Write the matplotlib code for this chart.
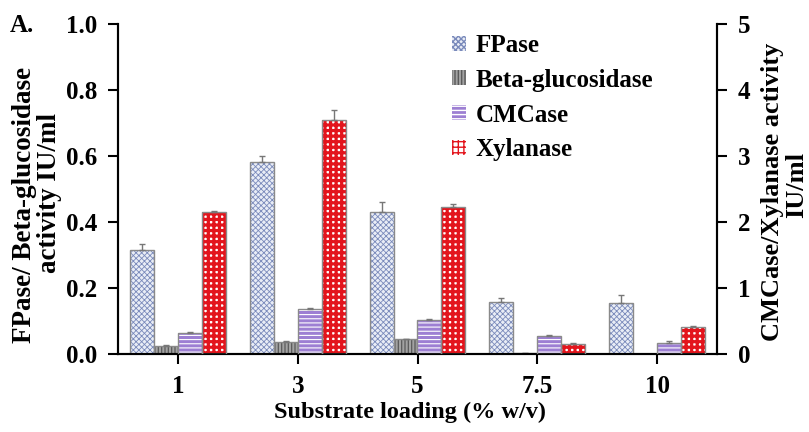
import matplotlib
matplotlib.use("Agg")
import matplotlib.pyplot as plt
from matplotlib.patches import Patch
import numpy as np

categories = ["1", "3", "5", "7.5", "10"]
fpase = [0.316, 0.583, 0.430, 0.158, 0.154]
fpase_err = [0.016, 0.018, 0.032, 0.011, 0.024]
bgluc = [0.024, 0.035, 0.044, 0.002, 0.0]
bgluc_err = [0.002, 0.004, 0.002, 0.001, 0.0]
cmcase = [0.32, 0.68, 0.51, 0.27, 0.16]
cmcase_err = [0.015, 0.02, 0.02, 0.02, 0.04]
xylanase = [2.15, 3.55, 2.22, 0.15, 0.41]
xylanase_err = [0.01, 0.15, 0.05, 0.01, 0.02]

plt.rcParams['font.family'] = ['Liberation Serif', 'DejaVu Serif']
plt.rcParams['font.weight'] = 'bold'

fig = plt.figure(figsize=(8.09, 4.32), dpi=100)
ax = fig.add_axes([118/809, 1-354/432, (717-118)/809, (354-24)/432])
ax2 = ax.twinx()

x = np.arange(len(categories))
w = 0.2
styles = {
    'FPase': dict(fc='#e9edf6', hc='#7a8abb', hatch='xxxxxx', hlw=0.6),
    'Beta-glucosidase': dict(fc='#a2a2a2', hc='#5a5a5a', hatch='|||||', hlw=0.9),
    'CMCase': dict(fc='#9d7fd3', hc='#ffffff', hatch='----', hlw=0.8),
    'Xylanase': dict(fc='#ffffff', hc='#e3141c', hatch='+++', hlw=2.3),
}

def mkbar(a, pos, vals, s):
    with plt.rc_context({'hatch.linewidth': s['hlw']}):
        bars = a.bar(pos, vals, w, color=s['fc'], edgecolor=s['hc'], hatch=s['hatch'], linewidth=0, zorder=2)
        for b in bars:
            if hasattr(b, 'set_hatch_linewidth'):
                b.set_hatch_linewidth(s['hlw'])
    return bars

def draw(a, pos, vals, errs, name):
    s = styles[name]
    mkbar(a, pos, vals, s)
    a.bar(pos, vals, w, fill=False, edgecolor='#8a8a8a', linewidth=1.0, zorder=3)
    a.errorbar(pos, vals, yerr=[np.zeros(len(errs)), errs], fmt='none', ecolor='#777777',
               elinewidth=1.0, capsize=2.5, capthick=1.0, zorder=4)

draw(ax, x - 1.5*w, fpase, fpase_err, 'FPase')
draw(ax, x - 0.5*w, bgluc, bgluc_err, 'Beta-glucosidase')
draw(ax2, x + 0.5*w, cmcase, cmcase_err, 'CMCase')
draw(ax2, x + 1.5*w, xylanase, xylanase_err, 'Xylanase')

ax.set_xlim(-0.5, len(categories) - 0.5)
ax.set_ylim(0, 1.0)
ax2.set_ylim(0, 5)
ax.set_yticks([0, 0.2, 0.4, 0.6, 0.8, 1.0])
ax.set_yticklabels(['0.0', '0.2', '0.4', '0.6', '0.8', '1.0'])
ax2.set_yticks([0, 1, 2, 3, 4, 5])
ax.set_xticks(x)
ax.set_xticklabels(categories)

FS = 18
for a in (ax, ax2):
    for sp in a.spines.values():
        sp.set_linewidth(1.5)
    a.spines['top'].set_visible(False)
    a.tick_params(axis='both', labelsize=FS, width=1.5, length=7, direction='out')
ax.tick_params(axis='y', pad=8)
ax2.tick_params(axis='y', pad=8)
ax.tick_params(axis='x', pad=8)
for lab in ax.get_xticklabels() + ax.get_yticklabels() + ax2.get_yticklabels():
    lab.set_fontweight('bold')

fig.text(410/809, 1-412/432, 'Substrate loading (% w/v)', fontsize=17.5, fontweight='bold',
         ha='center', va='center')
fig.text(25/809, 1-205/432, 'FPase/ Beta-glucosidase', fontsize=19.5, fontweight='bold',
         rotation=90, ha='center', va='center')
fig.text(50/809, 1-193/432, 'activity IU/ml', fontsize=19.5, fontweight='bold',
         rotation=90, ha='center', va='center')
fig.text(772/809, 1-192/432, 'CMCase/Xylanase activity', fontsize=19, fontweight='bold',
         rotation=90, ha='center', va='center')
fig.text(797/809, 1-185/432, 'IU/ml', fontsize=19, fontweight='bold',
         rotation=90, ha='center', va='center')

fig.text(10/809, 1-26/432, 'A.', fontsize=18, fontweight='bold', va='center', ha='left')

handles = []
for n in styles:
    s = styles[n]
    with plt.rc_context({'hatch.linewidth': s['hlw']}):
        p = Patch(facecolor=s['fc'], edgecolor=s['hc'], hatch=s['hatch'], linewidth=0)
    handles.append(p)
leg = ax.legend(handles, list(styles.keys()), loc='upper left',
                bbox_to_anchor=(452/809, 1-34/432), bbox_transform=fig.transFigure,
                frameon=False, fontsize=FS, handlelength=0.55, handleheight=0.55,
                handletextpad=0.4, labelspacing=0.47, borderpad=0, borderaxespad=0)
for t in leg.get_texts():
    t.set_fontweight('bold')

fig.savefig('out.png', dpi=100)
